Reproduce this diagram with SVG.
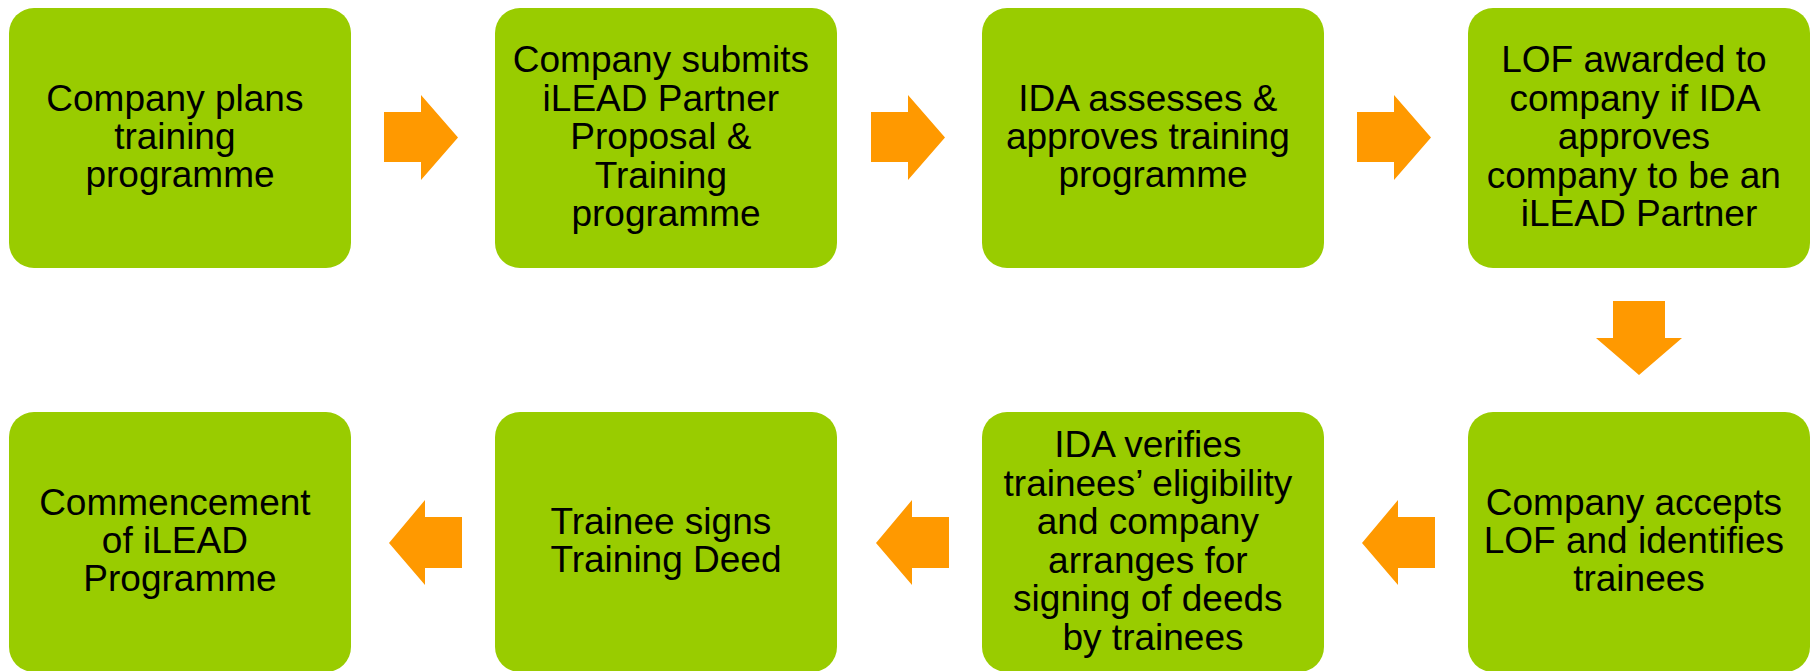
<svg xmlns="http://www.w3.org/2000/svg" width="1811" height="671" viewBox="0 0 1811 671">
  <style>
    .box { fill: #99CC00; }
    .arrow { fill: #FF9900; }
    .label { font-family: "Liberation Sans", Arial, sans-serif; font-size: 37px; fill: #000000; text-anchor: middle; }
  </style>
  <defs>
    <path id="arrow-right" d="M0,17 H37 V0 L74,42.5 L37,85 V67 H0 Z"/>
    <path id="arrow-left" d="M0,43 L36,0 V17 H73 V68 H36 V85 Z"/>
  </defs>
  <rect width="1811" height="671" fill="#FFFFFF"/>

  <!-- connectors -->
  <g id="connectors" class="arrow">
    <use href="#arrow-right" x="384" y="95"/>
    <use href="#arrow-right" x="871" y="95"/>
    <use href="#arrow-right" x="1357" y="95"/>
    <path d="M1613,301 H1665 V338 H1682 L1639,375 L1596,338 H1613 Z"/>
    <use href="#arrow-left" x="1362" y="500"/>
    <use href="#arrow-left" x="876" y="500"/>
    <use href="#arrow-left" x="389" y="500"/>
  </g>

  <!-- top row -->
  <g id="step1">
    <rect class="box" x="9" y="8" width="342" height="260" rx="25"/>
    <text class="label" x="180" y="111">
      <tspan x="180">Company plans</tspan>
      <tspan x="180" dy="38">training</tspan>
      <tspan x="180" dy="38">programme</tspan>
    </text>
  </g>
  <g id="step2">
    <rect class="box" x="495" y="8" width="342" height="260" rx="25"/>
    <text class="label" x="666" y="72">
      <tspan x="666">Company submits</tspan>
      <tspan x="666" dy="38.5">iLEAD Partner</tspan>
      <tspan x="666" dy="38.5">Proposal &amp;</tspan>
      <tspan x="666" dy="38.5">Training</tspan>
      <tspan x="666" dy="38.5">programme</tspan>
    </text>
  </g>
  <g id="step3">
    <rect class="box" x="982" y="8" width="342" height="260" rx="25"/>
    <text class="label" x="1153" y="111">
      <tspan x="1153">IDA assesses &amp;</tspan>
      <tspan x="1153" dy="38">approves training</tspan>
      <tspan x="1153" dy="38">programme</tspan>
    </text>
  </g>
  <g id="step4">
    <rect class="box" x="1468" y="8" width="342" height="260" rx="25"/>
    <text class="label" x="1639" y="72">
      <tspan x="1639">LOF awarded to</tspan>
      <tspan x="1639" dy="38.5">company if IDA</tspan>
      <tspan x="1639" dy="38.5">approves</tspan>
      <tspan x="1639" dy="38.5">company to be an</tspan>
      <tspan x="1639" dy="38.5">iLEAD Partner</tspan>
    </text>
  </g>

  <!-- bottom row -->
  <g id="step5">
    <rect class="box" x="1468" y="412" width="342" height="260" rx="25"/>
    <text class="label" x="1639" y="515">
      <tspan x="1639">Company accepts</tspan>
      <tspan x="1639" dy="38">LOF and identifies</tspan>
      <tspan x="1639" dy="38">trainees</tspan>
    </text>
  </g>
  <g id="step6">
    <rect class="box" x="982" y="412" width="342" height="260" rx="25"/>
    <text class="label" x="1153" y="457">
      <tspan x="1153">IDA verifies</tspan>
      <tspan x="1153" dy="38.5">trainees’ eligibility</tspan>
      <tspan x="1153" dy="38.5">and company</tspan>
      <tspan x="1153" dy="38.5">arranges for</tspan>
      <tspan x="1153" dy="38.5">signing of deeds</tspan>
      <tspan x="1153" dy="38.5">by trainees</tspan>
    </text>
  </g>
  <g id="step7">
    <rect class="box" x="495" y="412" width="342" height="260" rx="25"/>
    <text class="label" x="666" y="534">
      <tspan x="666">Trainee signs</tspan>
      <tspan x="666" dy="38">Training Deed</tspan>
    </text>
  </g>
  <g id="step8">
    <rect class="box" x="9" y="412" width="342" height="260" rx="25"/>
    <text class="label" x="180" y="515">
      <tspan x="180">Commencement</tspan>
      <tspan x="180" dy="38">of iLEAD</tspan>
      <tspan x="180" dy="38">Programme</tspan>
    </text>
  </g>
</svg>
